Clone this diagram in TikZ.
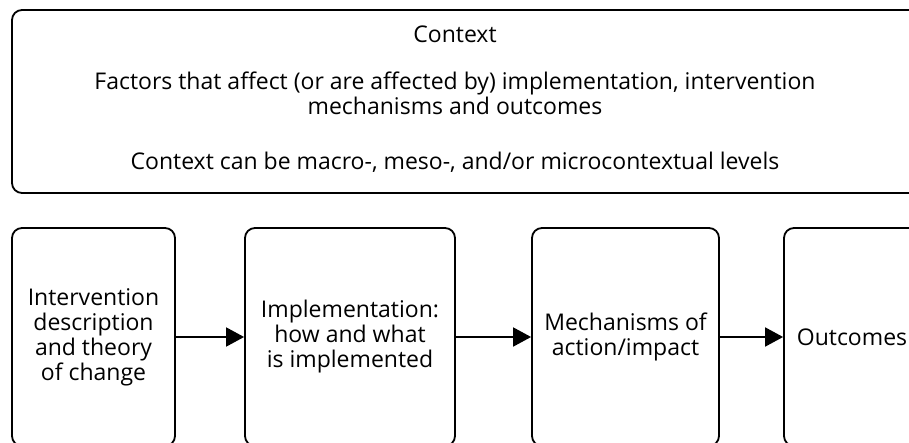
\documentclass[tikz,border=0pt]{standalone}
\usepackage{fontspec}
\setmainfont{Open Sans}
\usetikzlibrary{arrows.meta}
\usetikzlibrary{calc}

\begin{document}
\begin{tikzpicture}[x=1pt,y=-1pt,
        flow arrow/.style={
        arrows = {-Triangle[length=18pt,width=19pt]},
        line width=1.8pt
        },
        box/.style={
                draw,
                line width=1.8pt,
                rounded corners=10pt,
                inner sep=0pt
            },
        stage/.style={
                box,
                minimum height=218pt,
                align=center,
                font=\fontsize{23}{25}\selectfont
            },
        label/.style={
                anchor=base,
                font=\fontsize{23}{25}\selectfont
            }]
        \clip (0,0) rectangle (909,443);
        \useasboundingbox (0,0) rectangle (909,443);

        \node [box, minimum width=913pt, minimum height=183pt] (ctx) at (468.5,101.5) {};
        \node [label] (ctxtitle) at (455,43) {Context};
        \node [label] (ctxline1) at ($(ctxtitle.base) + (0, 47)$) {Factors that affect (or are affected by) implementation, intervention};
        \node [label] (ctxline2) at ($(ctxline1.base) + (0, 25)$) {mechanisms and outcomes};
        \node [label] (ctxline3) at ($(ctxline2.base) + (0, 55)$) {Context can be macro-, meso-, and/or microcontextual levels};

        \node [stage, minimum width=163pt] (desc) at (93.5,337) {Intervention\\description\\and theory\\of change};
        \node [stage, minimum width=210pt] (impl) at ($(desc) + (256.5, 0)$) {Implementation:\\how and what\\is implemented};
        \node [stage, minimum width=187pt] (mech) at ($(impl) + (275.5, 0)$) {Mechanisms of\\action/impact};
        \node [stage, minimum width=136pt] (outc) at ($(mech) + (226.5, 0)$) {Outcomes};

        \draw [flow arrow] (desc) -- (impl);
        \draw [flow arrow] (impl) -- (mech);
        \draw [flow arrow] (mech) -- (outc);
    \end{tikzpicture}
\end{document}
